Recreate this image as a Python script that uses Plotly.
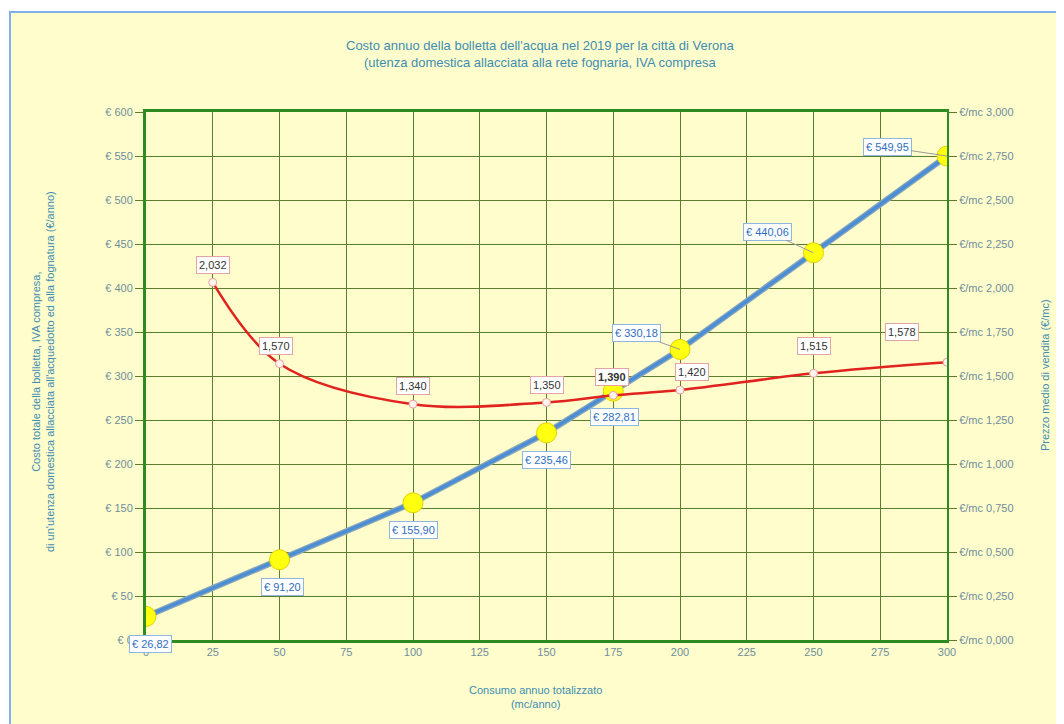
import plotly.graph_objects as go

# ---- data ----
consumo = [0, 50, 100, 150, 175, 200, 250, 300]
costo = [26.82, 91.20, 155.90, 235.46, 282.81, 330.18, 440.06, 549.95]
consumo_prezzo = [25, 50, 100, 150, 175, 200, 250, 300]
prezzo = [2.032, 1.570, 1.340, 1.350, 1.390, 1.420, 1.515, 1.578]
x_ticks = list(range(0, 301, 25))
y_ticks = list(range(0, 601, 50))
y2_ticks = [0, 0.25, 0.5, 0.75, 1.0, 1.25, 1.5, 1.75, 2.0, 2.25, 2.5, 2.75, 3.0]

# label offsets in pixels (ax, ay, show leader line)
costo_offsets = [(4, 28, False), (3, 27, False), (0, 27, False), (0, 27, False),
                 (1, 26, False), (-44, -16, True), (-46, -21, True), (-60, -9, True)]
prezzo_offsets = [(0, -17, False), (-4, -18, False), (0, -18, False), (0, -17, False),
                  (-1, -18, False), (12, -18, False), (0, -27, False), (-45, -30, False)]
prezzo_bold = [False, False, False, False, True, False, False, False]

FONT = "Liberation Sans, Arial, sans-serif"
BG = "#FFFDCC"
GRID = "#5C7F2E"
TICKC = "#6F8E9C"
TITLEC = "#3E8DB3"

def it(v, d):
    return f"{v:.{d}f}".replace(".", ",")

fig = go.Figure()

# blue cost line (shadow + line)
fig.add_trace(go.Scatter(x=consumo, y=costo, mode="lines",
                         line=dict(color="#8AA6B8", width=6), hoverinfo="skip", showlegend=False))
fig.add_trace(go.Scatter(x=consumo, y=costo, mode="lines+markers",
                         line=dict(color="#4C8ED6", width=3.5),
                         marker=dict(size=20, color="#FFFF10", line=dict(color="#E2D200", width=1)),
                         showlegend=False))

# red price line
fig.add_trace(go.Scatter(x=consumo_prezzo, y=prezzo, mode="lines+markers", yaxis="y2",
                         line=dict(color="#E0231E", width=2.5, shape="spline", smoothing=1.0),
                         marker=dict(size=8, color="#FFF4EE", line=dict(color="#E8A0A0", width=1)),
                         showlegend=False))

anns = []
for x, y, (ax, ay, lead) in zip(consumo, costo, costo_offsets):
    anns.append(dict(x=x, y=y, xref="x", yref="y", text="€ " + it(y, 2),
                     showarrow=True, ax=ax, ay=ay, arrowhead=0, arrowwidth=1,
                     arrowcolor="#9A9A9A" if lead else "rgba(0,0,0,0)",
                     font=dict(family=FONT, size=11, color="#2E6EBF"),
                     bgcolor="#FFFFFF", bordercolor="#8FB6E0", borderwidth=1, borderpad=2))
for x, y, (ax, ay, lead), b in zip(consumo_prezzo, prezzo, prezzo_offsets, prezzo_bold):
    t = it(y, 3)
    anns.append(dict(x=x, y=y, xref="x", yref="y2", text=f"<b>{t}</b>" if b else t,
                     showarrow=True, ax=ax, ay=ay, arrowhead=0, arrowwidth=1,
                     arrowcolor="#9A9A9A" if lead else "rgba(0,0,0,0)",
                     font=dict(family=FONT, size=11, color="#333333"),
                     bgcolor="#FFFFFF", bordercolor="#E6A3A3", borderwidth=1, borderpad=2))

# page has an 8px body margin: figure sized so the window shows it like the reference
OFF = 8
W, H = 1064 - OFF, 724 - OFF
ml, mr, mt, mb = 146 - OFF, 117, 112 - OFF, 84
pw, ph = W - ml - mr, H - mt - mb
def px(xw): return (xw - OFF - ml) / pw
def py(yw): return (H - mb - (yw - OFF)) / ph

# axis titles as annotations for exact placement
anns.append(dict(xref="paper", yref="paper", x=px(43), y=py(372), showarrow=False,
                 textangle=-90, xanchor="center", yanchor="middle",
                 text="Costo totale della bolletta, IVA compresa,<br>di un'utenza domestica allacciata all'acquedotto ed alla fognatura (€/anno)",
                 font=dict(family=FONT, size=11, color=TITLEC)))
anns.append(dict(xref="paper", yref="paper", x=px(1045), y=py(375), showarrow=False,
                 textangle=-90, xanchor="center", yanchor="middle",
                 text="Prezzo medio di vendita (€/mc)",
                 font=dict(family=FONT, size=11, color=TITLEC)))
anns.append(dict(xref="paper", yref="paper", x=px(535), y=py(697), showarrow=False,
                 xanchor="center", yanchor="middle",
                 text="Consumo annuo totalizzato<br>(mc/anno)",
                 font=dict(family=FONT, size=11, color=TITLEC)))
anns.append(dict(xref="paper", yref="paper", x=px(540), y=py(54), showarrow=False,
                 xanchor="center", yanchor="middle",
                 text="Costo annuo della bolletta dell'acqua nel 2019 per la città di Verona<br>(utenza domestica allacciata alla rete fognaria, IVA compresa",
                 font=dict(family=FONT, size=13, color=TITLEC)))

shapes = [dict(type="rect", xref="paper", yref="paper",
               x0=px(10), x1=px(1057), y0=py(760), y1=py(12),
               line=dict(color="#7FB0E8", width=2), fillcolor=BG, layer="below")]

fig.update_layout(
    width=W, height=H,
    margin=dict(l=ml, r=mr, t=mt, b=mb, autoexpand=False),
    paper_bgcolor="#FFFFFF", plot_bgcolor=BG,
    separators=",.",
    font=dict(family=FONT, size=11, color=TICKC),
    xaxis=dict(range=[0, 300], tickmode="array", tickvals=x_ticks,
               ticktext=[str(v) for v in x_ticks],
               showgrid=True, gridcolor=GRID, gridwidth=1,
               showline=True, linecolor="#2E8B22", linewidth=3, mirror=True,
               ticks="", zeroline=False,
               tickfont=dict(family=FONT, size=11, color=TICKC)),
    yaxis=dict(range=[0, 600], tickmode="array", tickvals=y_ticks,
               ticktext=["€ " + str(v) for v in y_ticks],
               showgrid=True, gridcolor=GRID, gridwidth=1,
               showline=True, linecolor="#2E8B22", linewidth=3,
               ticks="outside", ticklen=8, tickcolor=GRID, zeroline=False,
               tickfont=dict(family=FONT, size=11, color=TICKC)),
    yaxis2=dict(range=[0, 3], tickmode="array", tickvals=y2_ticks,
                ticktext=["€/mc " + it(v, 3) for v in y2_ticks],
                overlaying="y", side="right",
                showgrid=False, showline=True, linecolor="#2E8B22", linewidth=2,
                ticks="outside", ticklen=8, tickcolor=GRID, zeroline=False,
                tickfont=dict(family=FONT, size=11, color=TICKC)),
    annotations=anns,
    shapes=shapes,
)

fig.write_html("out.html")
